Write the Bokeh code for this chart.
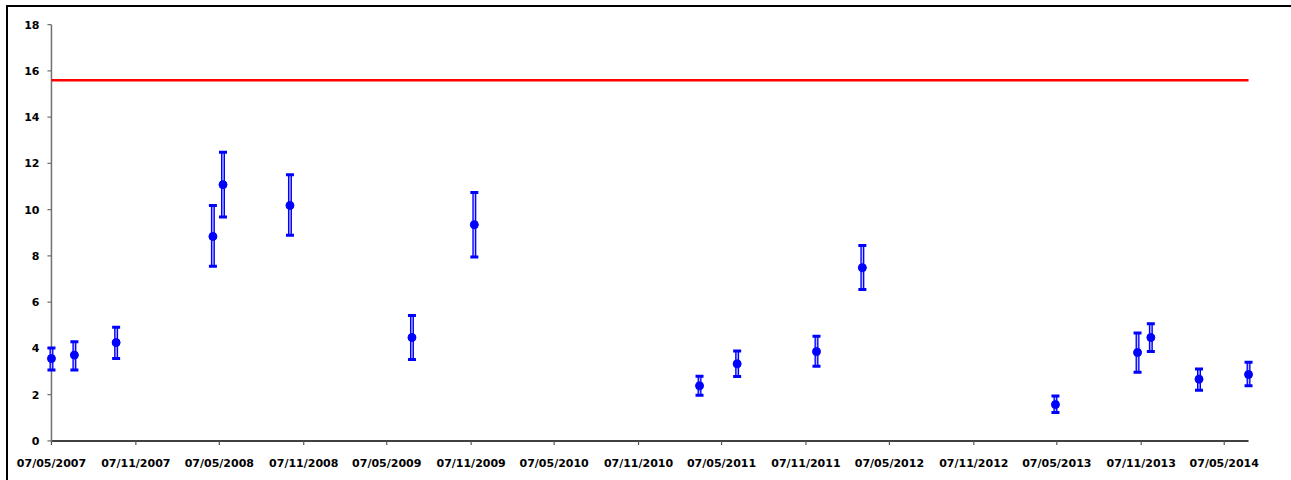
from datetime import datetime, timedelta
from math import pi

from bokeh.embed import file_html
from bokeh.models import DatetimeTickFormatter, FixedTicker, Range1d
from bokeh.plotting import figure
from bokeh.resources import INLINE

# Sampling dates and measured values with their uncertainty bounds
sample_dates = [
    "2007-05-07", "2007-06-26", "2007-09-25", "2008-04-23", "2008-05-15",
    "2008-10-08", "2009-07-01", "2009-11-14", "2011-03-20", "2011-06-10",
    "2011-11-30", "2012-03-09", "2013-05-04", "2013-10-30", "2013-11-28",
    "2014-03-13", "2014-06-29",
]
measured = [3.56, 3.71, 4.25, 8.84, 11.08, 10.18, 4.47, 9.35, 2.38, 3.33,
            3.86, 7.49, 1.57, 3.82, 4.47, 2.67, 2.87]
lower_bound = [3.07, 3.07, 3.56, 7.55, 9.68, 8.89, 3.52, 7.95, 1.97, 2.78,
               3.23, 6.55, 1.23, 2.97, 3.87, 2.19, 2.38]
upper_bound = [4.02, 4.29, 4.91, 10.18, 12.48, 11.51, 5.42, 10.74, 2.79, 3.89,
               4.52, 8.45, 1.94, 4.67, 5.07, 3.11, 3.40]
limit_value = 15.6

tick_dates = [
    "2007-05-07", "2007-11-07", "2008-05-07", "2008-11-07", "2009-05-07",
    "2009-11-07", "2010-05-07", "2010-11-07", "2011-05-07", "2011-11-07",
    "2012-05-07", "2012-11-07", "2013-05-07", "2013-11-07", "2014-05-07",
]
y_ticks = [0, 2, 4, 6, 8, 10, 12, 14, 16, 18]
y_max = 18


def to_dt(s):
    return datetime.strptime(s, "%Y-%m-%d")


def to_ms(s):
    return (to_dt(s) - datetime(1970, 1, 1)).total_seconds() * 1000.0


x = [to_dt(d) for d in sample_dates]
x_first, x_last = x[0], x[-1]
pad = timedelta(days=13)  # keeps edge markers from being cut by the frame

p = figure(
    frame_width=1209, frame_height=422,
    x_axis_type="datetime",
    x_range=Range1d(x_first - pad, x_last + pad),
    y_range=Range1d(-0.2, y_max + 0.05),
    output_backend="svg", toolbar_location=None,
    min_border_left=37, min_border_right=39, min_border_top=16, min_border_bottom=37,
)
p.margin = (5, 0, 0, 6)
p.styles = {"border-top": "2px solid black", "border-left": "2px solid black",
            "box-sizing": "border-box"}
p.outline_line_color = None
p.xgrid.visible = False
p.ygrid.visible = False
p.background_fill_color = "white"
p.border_fill_color = "white"

# axis lines spanning exactly the data extent, with outward tick marks
p.segment(x0=[x_first], y0=[0], x1=[x_last], y1=[0], line_color="black", line_width=1.5)
p.segment(x0=[x_first], y0=[0], x1=[x_first], y1=[y_max], line_color="#707070", line_width=1.5)
p.ray(x=[to_dt(d) for d in tick_dates], y=[0] * len(tick_dates), length=4,
      length_units="screen", angle=-pi / 2, line_color="#555555", line_width=1.2)
p.ray(x=[x_first] * len(y_ticks), y=y_ticks, length=4, length_units="screen",
      angle=pi, line_color="#707070", line_width=1.2)

# limit line
p.line(x, [limit_value] * len(x), line_color="#ff0000", line_width=2.5)

# error bars: blue stem with a pale core, thick caps
p.segment(x0=x, y0=lower_bound, x1=x, y1=upper_bound, line_color="#0000ff", line_width=4)
p.segment(x0=x, y0=lower_bound, x1=x, y1=upper_bound, line_color="white",
          line_width=1.3, line_alpha=0.75)
for bound in (lower_bound, upper_bound):
    p.rect(x=x, y=bound, width=8, height=3, width_units="screen", height_units="screen",
           fill_color="#0000ff", line_color=None)

p.scatter(x, measured, size=8, fill_color="#0000ff", line_color="#0000ff")

fmt = "%d/%m/%Y"
p.xaxis.ticker = FixedTicker(ticks=[to_ms(d) for d in tick_dates])
p.xaxis.formatter = DatetimeTickFormatter(
    milliseconds=fmt, seconds=fmt, minsec=fmt, minutes=fmt, hourmin=fmt, hours=fmt,
    days=fmt, months=fmt, years=fmt,
)
p.yaxis.ticker = FixedTicker(ticks=y_ticks)

for ax in (p.xaxis[0], p.yaxis[0]):
    ax.major_label_text_font = "DejaVu Sans"
    ax.major_label_text_font_style = "bold"
    ax.major_label_text_font_size = "11px"
    ax.major_label_text_color = "black"
    ax.major_tick_in = 0
    ax.major_tick_out = 0
    ax.minor_tick_in = 0
    ax.minor_tick_out = 0
    ax.axis_line_color = None
    ax.major_tick_line_color = None
    ax.minor_tick_line_color = None

p.xaxis.major_label_standoff = 11
p.yaxis.major_label_standoff = 6

open("out.html", "w").write(file_html(p, INLINE))
